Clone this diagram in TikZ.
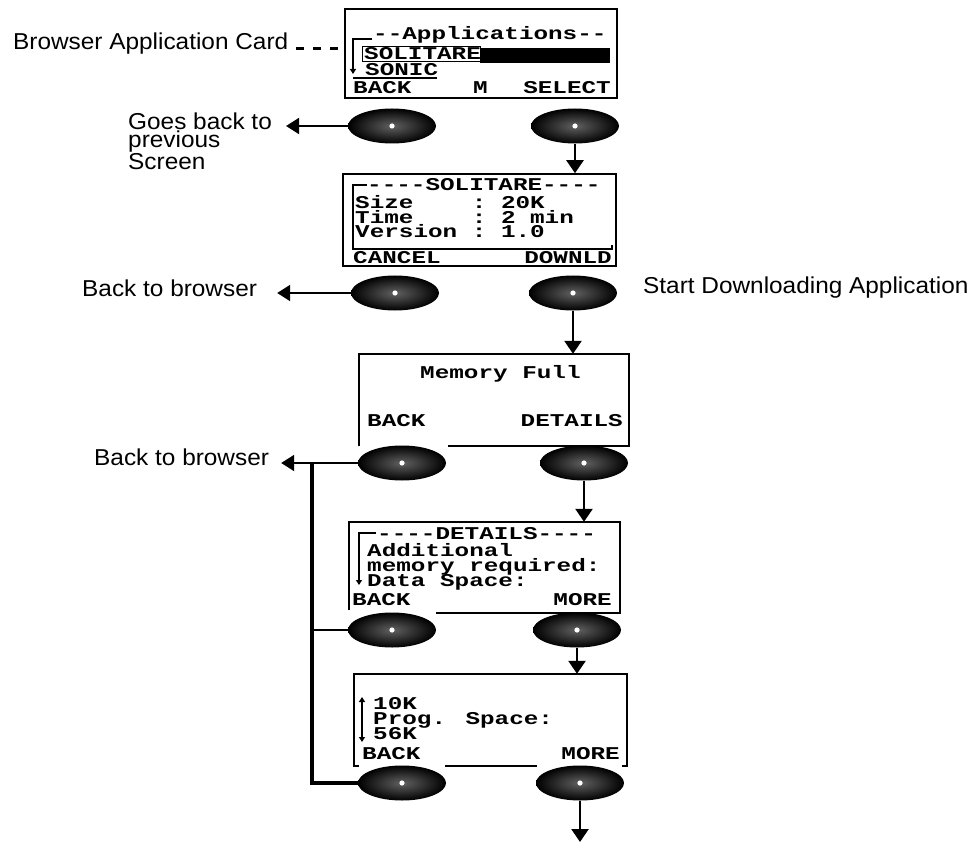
\documentclass[tikz,border=0pt]{standalone}
\usepackage{fontspec}
\setmainfont{Liberation Sans}[FakeStretch=1.06]
\newfontfamily\lcdfont{Liberation Mono}[FakeStretch=1.35]
\usetikzlibrary{arrows.meta,shapes.geometric}
\newcommand\lcdtype[1]{\lcdfont\bfseries\fontsize{18}{#1}\selectfont\lineskiplimit-20pt\relax}

\tikzset{
  screen/.style={draw, line width=1.6pt, rectangle, inner sep=0pt},
  bezel/.style={rectangle, inner sep=0pt},
  frame/.style={line width=1.6pt},
  lcd/.style={font={\lcdtype{15}}, inner sep=0pt, anchor=base west, align=left},
  lcdR/.style={lcd, anchor=base east},
  scroll/.style={line width=1.2pt, -{Triangle[length=5pt,width=6pt]}},
  key/.style={ellipse, minimum width=88pt, minimum height=35pt, inner sep=0pt, shade, inner color=black!62, outer color=black,
    path picture={\fill[white] (path picture bounding box.center) circle (2.6pt);}},
  note/.style={font=\fontsize{23}{17.5}\selectfont, inner sep=0pt, align=left},
  flow/.style={-{Triangle[length=13pt,width=17pt]}, line width=2.5pt},
  back/.style={-{Triangle[length=13pt,width=16pt]}, line width=2pt},
}

\begin{document}
\begin{tikzpicture}[x=1pt, y=-1pt]
	\useasboundingbox (0,0) rectangle (974,842);

	% screens
	\node[screen, minimum width=272pt, minimum height=89pt](scrApps) at (481,53.5){};
	\node[screen, minimum width=273pt, minimum height=92pt](scrSol) at (479.5,220){};
	\node[bezel, minimum width=270pt, minimum height=92pt](scrMem) at (494,400){};
	\node[bezel, minimum width=271pt, minimum height=91pt](scrDet) at (484.5,567.5){};
	\node[bezel, minimum width=273pt, minimum height=92pt](scrProg) at (490.5,720){};

	\draw[frame] (scrMem.south west) -- (scrMem.north west) -- (scrMem.north east) -- (scrMem.south east) -- ++(-181,0);
	\draw[frame] ([yshift=3pt]scrDet.south west) -- (scrDet.north west) -- (scrDet.north east) -- (scrDet.south east) -- ++(-184,0);
	\draw[frame] ([xshift=5pt]scrProg.south west) -- (scrProg.south west) -- (scrProg.north west) -- (scrProg.north east) -- (scrProg.south east) -- ++(-5,0);
	\draw[frame] (445,766) -- (537,766);

	% keys under the screens
	\node[key](appsBack) at (392,126){};
	\node[key](appsSelect) at (575,126){};
	\node[key](solCancel) at (395,293){};
	\node[key](solDownld) at (573,293){};
	\node[key](memBack) at (402,463){};
	\node[key](memDetails) at (584,463){};
	\node[key](detBack) at (392,630){};
	\node[key](detMore) at (577,630){};
	\node[key](progBack) at (402,783){};
	\node[key](progMore) at (580,783){};

	% applications screen
	\draw[scroll] (372,39) -- (353,39) -- (353,74);
	\node[lcd](appsTitle) at (373,40){--Applications--};
	\draw[line width=1pt] (362,47) rectangle (480,62);
	\fill (480,48) rectangle (610,63);
	\node[lcd](appsSol) at (364,60){SOLITARE};
	\node[lcd](appsSonic) at (365,75.5){SONIC};
	\draw[line width=1.2pt] (353,78) -- (437,78);
	\node[lcd](appsBackTxt) at (353,94){BACK};
	\node[lcd](appsM) at (473,94){M};
	\node[lcdR](appsSelTxt) at (611,94){SELECT};

	% solitare screen
	\draw[line width=1.2pt] (367,185) -- (353,185) -- (353,249) -- (612,249) -- (612,245);
	\node[lcd](solTitle) at (367,191){----SOLITARE----};
	\node[lcd, font={\lcdtype{14.5}}](solInfo) at (355,238){Size~~~~:~20K\\Time~~~~:~2~min\\Version~:~1.0};
	\node[lcd](solCancelTxt) at (353,264){CANCEL};
	\node[lcdR](solDownTxt) at (612,264){DOWNLD};

	% memory full screen
	\node[lcd](memTitle) at (420,378){Memory Full};
	\node[lcd](memBackTxt) at (367,426){BACK};
	\node[lcdR](memDetTxt) at (623,426){DETAILS};

	% details screen
	\draw[scroll] (376,533) -- (359,533) -- (359,585);
	\node[lcd](detTitle) at (377,539){----DETAILS----};
	\node[lcd](detInfo) at (367,586){Additional\\memory required:\\Data Space:};
	\node[lcd](detBackTxt) at (352,605){BACK};
	\node[lcdR](detMoreTxt) at (612,605){MORE};

	% program space screen
	\draw[line width=1.2pt, {Triangle[length=5pt,width=6pt]}-{Triangle[length=5pt,width=6pt]}] (362,697) -- (362,742);
	\node[lcd](progInfo) at (373,739){10K\\Prog. Space:\\56K};
	\node[lcd](progBackTxt) at (362,759){BACK};
	\node[lcdR](progMoreTxt) at (620,759){MORE};

	% notes
	\node[note, anchor=west](lblCard) at (13,44){Browser Application Card};
	\node[note, anchor=north west](lblGoes) at (128,113){Goes back to\\previous\\Screen};
	\node[note, anchor=west](lblBack1) at (82,288){Back to browser};
	\node[note, anchor=west](lblStart) at (643,288){Start Downloading Application};
	\node[note, anchor=west](lblBack2) at (94,457){Back to browser};

	% card pointer
	\draw[line width=3pt, dash pattern=on 8pt off 9pt] ([xshift=8pt,yshift=-5pt]lblCard.east) -- ([yshift=-5pt]scrApps.west |- lblCard.east);

	% back keys
	\draw[back] (appsBack.west) -- ([xshift=14pt]lblGoes.north east |- appsBack.west);
	\draw[back] (solCancel.west) -- ([xshift=20pt]lblBack1.east |- solCancel.west);
	\coordinate (busTop) at (312,463);
	\draw[line width=1.5pt] (memBack.west) -- (busTop);
	\draw[back] (busTop) -- ([xshift=12pt]lblBack2.east |- busTop);
	\draw[line width=3.5pt] (busTop) -- (busTop |- progBack.west) -- (progBack.west);
	\draw[line width=1.5pt] (detBack.west) -- (detBack.west -| busTop);

	% forward keys
	\draw[flow] (appsSelect.south) -- (appsSelect.south |- scrSol.north);
	\draw[flow] (solDownld.south) -- (solDownld.south |- scrMem.north);
	\draw[flow] (memDetails.south) -- (memDetails.south |- scrDet.north);
	\draw[flow] (detMore.south) -- (detMore.south |- scrProg.north);
	\coordinate (nextScr) at (580,842);
	\draw[flow] (progMore.south) -- (nextScr);
\end{tikzpicture}
\end{document}
